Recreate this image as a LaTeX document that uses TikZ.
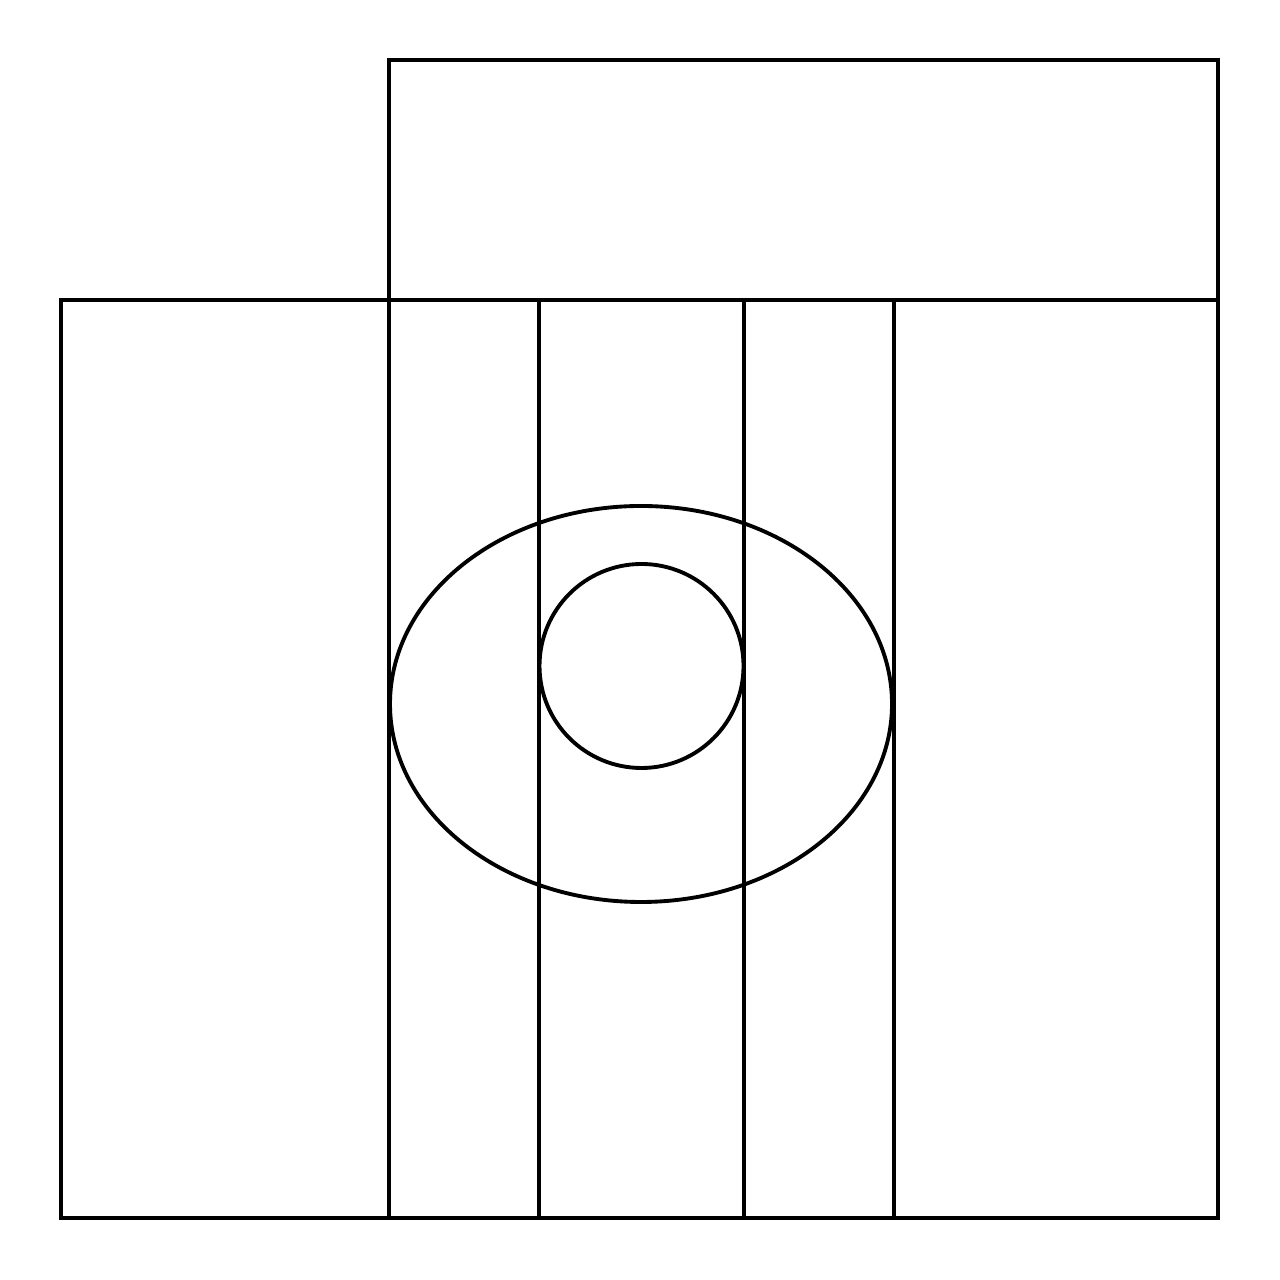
\documentclass[tikz,border=0pt]{standalone}
\usepackage{tikz}

\begin{document}
\begin{tikzpicture}[line width=1.1pt]

    \tikzstyle{part} = [draw=black, line join=miter]

    \useasboundingbox (0,0) rectangle (12.8,12.8);

    % top box and body
    \draw[part] (3.89,9.80)  rectangle (12.18,12.20);
    \draw[part] (0.61,0.62)  rectangle (12.18,9.80);

    % strips
    \foreach \x in {3.89, 5.39, 7.44, 8.94}
        \draw[part] (\x,0.62) -- (\x,9.80);

    % lens
    \draw[part] (6.41,5.76)  ellipse (2.51 and 1.98);
    \draw[part] (6.415,6.14) circle (1.02);

\end{tikzpicture}
\end{document}
